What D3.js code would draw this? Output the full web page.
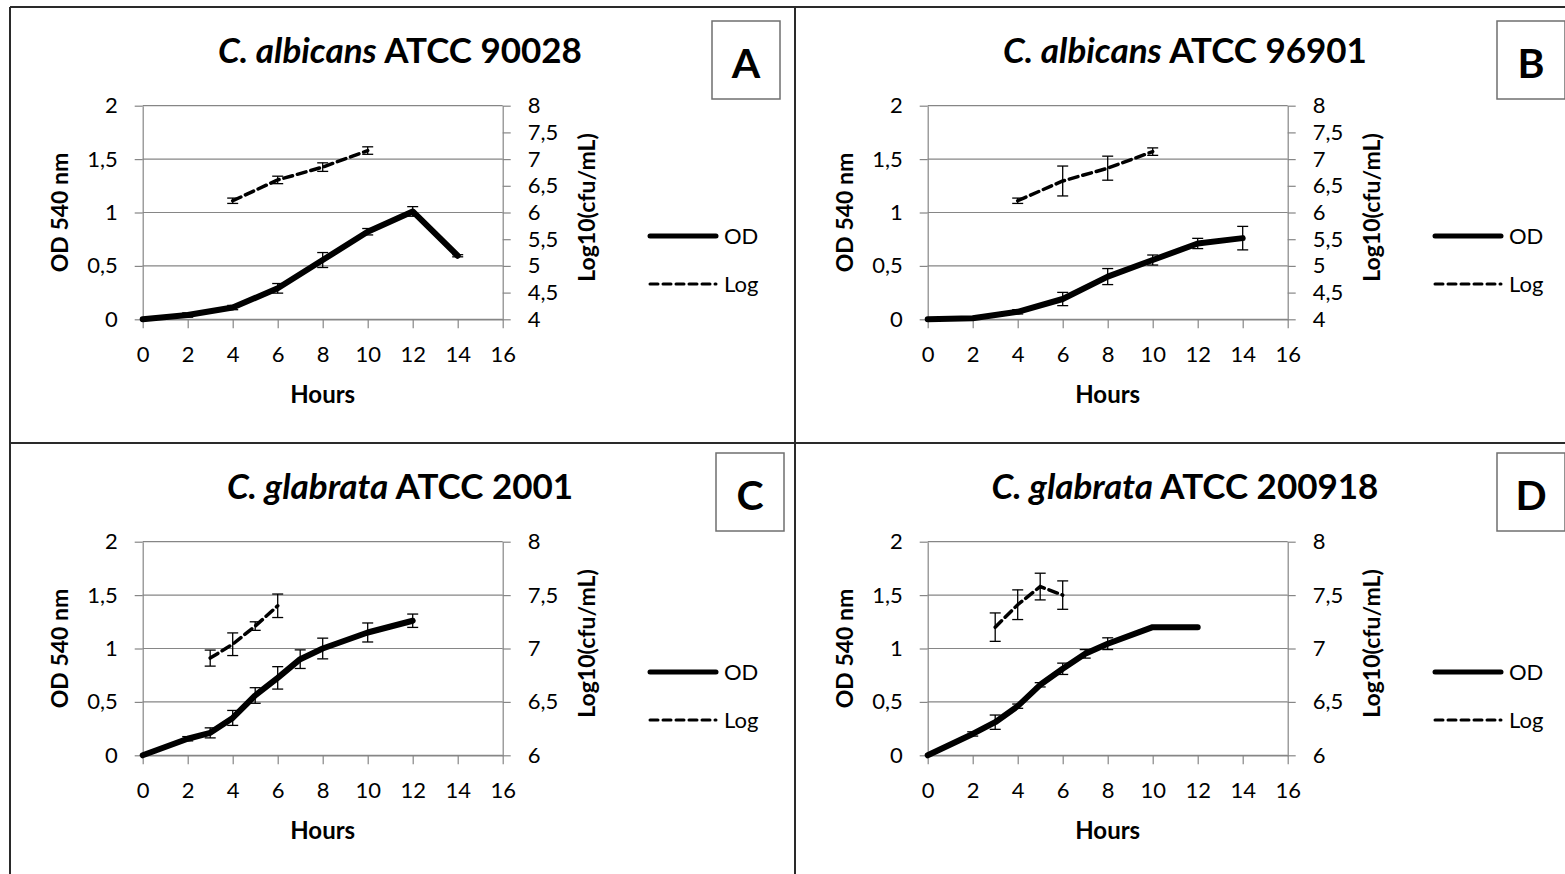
<!DOCTYPE html>
<html>
<head>
<meta charset="utf-8">
<script src="https://cdn.jsdelivr.net/npm/d3@7"></script>
<style>
  body { margin: 0; background: #fff; }
  text { font-family: Lato, "Open Sans", sans-serif; fill: #000; }
</style>
</head>
<body>
<script>
// ---- data ----
var xTicks = [0, 2, 4, 6, 8, 10, 12, 14, 16];
var odTicks = [0, 0.5, 1, 1.5, 2];
var logTicksAB = [4, 4.5, 5, 5.5, 6, 6.5, 7, 7.5, 8];
var logTicksCD = [6, 6.5, 7, 7.5, 8];
var legendLabels = ['OD', 'Log'];

var hoursA = [0, 2, 4, 6, 8, 10, 12, 14];
var odA = [0, 0.04, 0.11, 0.29, 0.555, 0.82, 1.01, 0.595];
var odErrA = [0, 0.02, 0.02, 0.045, 0.07, 0.03, 0.045, 0.01];
var logHoursA = [4, 6, 8, 10];
var logA = [6.22, 6.61, 6.85, 7.16];
var logErrA = [0.05, 0.07, 0.08, 0.07];

var hoursB = [0, 2, 4, 6, 8, 10, 12, 14];
var odB = [0, 0.01, 0.07, 0.19, 0.40, 0.555, 0.71, 0.76];
var odErrB = [0, 0, 0.02, 0.062, 0.075, 0.047, 0.048, 0.11];
var logHoursB = [4, 6, 8, 10];
var logB = [6.22, 6.59, 6.83, 7.14];
var logErrB = [0.05, 0.28, 0.225, 0.07];

var hoursC = [0, 2, 3, 4, 5, 6, 7, 8, 10, 12];
var odC = [0, 0.155, 0.21, 0.35, 0.56, 0.725, 0.90, 1.0, 1.15, 1.26];
var odErrC = [0, 0.02, 0.047, 0.07, 0.073, 0.105, 0.087, 0.097, 0.089, 0.0625];
var logHoursC = [3, 4, 5, 6];
var logC = [6.91, 7.04, 7.21, 7.40];
var logErrC = [0.075, 0.106, 0.04, 0.11];

var hoursD = [0, 2, 3, 4, 5, 6, 7, 8, 10, 12];
var odD = [0, 0.2, 0.31, 0.46, 0.66, 0.81, 0.95, 1.045, 1.2, 1.2];
var odErrD = [0, 0.02, 0.067, 0.02, 0.02, 0.053, 0.04, 0.055, 0, 0];
var logHoursD = [3, 4, 5, 6];
var logD = [7.2, 7.41, 7.58, 7.5];
var logErrD = [0.133, 0.139, 0.125, 0.133];

var species = ['C. albicans', 'C. albicans', 'C. glabrata', 'C. glabrata'];
var strains = ['ATCC 90028', 'ATCC 96901', 'ATCC 2001', 'ATCC 200918'];
var letters = ['A', 'B', 'C', 'D'];

// ---- layout ----
var svgWidth = 1565;
var svgHeight = 874;
var grid = '#868686';

var svg = d3.select('body').append('svg')
  .attr('width', svgWidth)
  .attr('height', svgHeight);

// panel frame lines
var frame = svg.append('g').attr('stroke', '#2a2a2a').attr('stroke-width', 2);
frame.append('line').attr('x1', 10).attr('x2', svgWidth).attr('y1', 7).attr('y2', 7);
frame.append('line').attr('x1', 10).attr('x2', svgWidth).attr('y1', 443).attr('y2', 443);
frame.append('line').attr('x1', 10).attr('x2', 10).attr('y1', 7).attr('y2', svgHeight);
frame.append('line').attr('x1', 795).attr('x2', 795).attr('y1', 7).attr('y2', svgHeight);

var comma = function(v){ return String(v).replace('.', ','); };

var zip = function(xs, ys, es){
  return xs.map(function(x, i){ return {x: x, y: ys[i], e: es[i]}; });
};

var panels = [
  {dx: 0,   dy: 0,   od: zip(hoursA, odA, odErrA), log: zip(logHoursA, logA, logErrA), logTicks: logTicksAB, boxDx: 0},
  {dx: 785, dy: 0,   od: zip(hoursB, odB, odErrB), log: zip(logHoursB, logB, logErrB), logTicks: logTicksAB, boxDx: 0},
  {dx: 0,   dy: 436, od: zip(hoursC, odC, odErrC), log: zip(logHoursC, logC, logErrC), logTicks: logTicksCD, boxDx: 4},
  {dx: 785, dy: 436, od: zip(hoursD, odD, odErrD), log: zip(logHoursD, logD, logErrD), logTicks: logTicksCD, boxDx: 0}
];

// plot box (panel A coordinates)
var pLeft = 142.7, pRight = 502.7, pTop = 105.7, pBottom = 319.3;

var drawPanel = function(p, k){
  var g = svg.append('g').attr('transform', 'translate(' + p.dx + ',' + p.dy + ')');

  var x = d3.scaleLinear().domain([0, 16]).range([pLeft, pRight]);
  var y = d3.scaleLinear().domain([0, 2]).range([pBottom, pTop]);
  var y2 = d3.scaleLinear().domain([p.logTicks[0], p.logTicks[p.logTicks.length - 1]]).range([pBottom, pTop]);

  // gridlines
  g.selectAll('.grid').data(odTicks).enter().append('line')
    .attr('x1', pLeft).attr('x2', pRight)
    .attr('y1', function(d){ return y(d); }).attr('y2', function(d){ return y(d); })
    .attr('stroke', grid).attr('stroke-width', 1.2);

  var styleAxis = function(sel){
    sel.selectAll('path, line').attr('stroke', grid).attr('stroke-width', 1.2);
    sel.selectAll('text').style('font-size', '22px').attr('fill', '#000');
  };

  g.append('g').attr('transform', 'translate(' + pLeft + ',0)')
    .call(d3.axisLeft(y).tickValues(odTicks).tickFormat(comma).tickSizeInner(8).tickSizeOuter(0).tickPadding(17))
    .call(styleAxis);
  g.append('g').attr('transform', 'translate(' + pRight + ',0)')
    .call(d3.axisRight(y2).tickValues(p.logTicks).tickFormat(comma).tickSizeInner(8).tickSizeOuter(0).tickPadding(17))
    .call(styleAxis);
  g.append('g').attr('transform', 'translate(0,' + pBottom + ')')
    .call(d3.axisBottom(x).tickValues(xTicks).tickSizeInner(9).tickSizeOuter(0).tickPadding(18))
    .call(styleAxis);

  // axis titles
  g.append('text').text('Hours')
    .attr('x', (pLeft + pRight) / 2).attr('y', 403)
    .attr('text-anchor', 'middle').style('font-size', '24px').style('font-weight', 'bold');
  g.append('text').text('OD 540 nm')
    .attr('transform', 'translate(68,' + ((pTop + pBottom) / 2) + ') rotate(-90)')
    .attr('text-anchor', 'middle').style('font-size', '23px').style('font-weight', 'bold');
  g.append('text').text('Log10(cfu/mL)')
    .attr('transform', 'translate(595,' + ((pTop + pBottom) / 2 - 5) + ') rotate(-90)')
    .attr('text-anchor', 'middle').style('font-size', '23px').style('font-weight', 'bold');

  // title
  var t = g.append('text').attr('x', 400).attr('y', 63)
    .attr('text-anchor', 'middle').style('font-size', '35px').style('font-weight', 'bold');
  t.append('tspan').text(species[k]).style('font-style', 'italic');
  t.append('tspan').text(' ' + strains[k]);

  // letter box
  var bx = 712 + p.boxDx, by = 21 - (p.dy ? 4 : 0);
  g.append('rect').attr('x', bx).attr('y', by).attr('width', 68).attr('height', 78)
    .attr('fill', 'none').attr('stroke', '#6f6f6f').attr('stroke-width', 1.5);
  g.append('text').text(letters[k]).attr('x', bx + 34).attr('y', by + 57)
    .attr('text-anchor', 'middle').style('font-size', '41px').style('font-weight', 'bold');

  // lines
  var odLine = d3.line().x(function(d){ return x(d.x); }).y(function(d){ return y(d.y); });
  var logLine = d3.line().x(function(d){ return x(d.x); }).y(function(d){ return y2(d.y); });

  g.append('path').datum(p.od).attr('d', odLine)
    .attr('fill', 'none').attr('stroke', '#000').attr('stroke-width', 6)
    .attr('stroke-linejoin', 'round').attr('stroke-linecap', 'round');
  g.append('path').datum(p.log).attr('d', logLine)
    .attr('fill', 'none').attr('stroke', '#000').attr('stroke-width', 3.5)
    .attr('stroke-dasharray', '9,5').attr('stroke-linecap', 'round');

  // error bars
  var drawErr = function(data, sy){
    var eb = g.append('g').attr('stroke', '#000').attr('stroke-width', 1.3);
    data.filter(function(d){ return d.e > 0; }).forEach(function(d){
      var cx = x(d.x);
      eb.append('line').attr('x1', cx).attr('x2', cx).attr('y1', sy(d.y - d.e)).attr('y2', sy(d.y + d.e));
      eb.append('line').attr('x1', cx - 5.5).attr('x2', cx + 5.5).attr('y1', sy(d.y - d.e)).attr('y2', sy(d.y - d.e));
      eb.append('line').attr('x1', cx - 5.5).attr('x2', cx + 5.5).attr('y1', sy(d.y + d.e)).attr('y2', sy(d.y + d.e));
    });
  };
  drawErr(p.od, y);
  drawErr(p.log, y2);

  // legend
  var lg = g.append('g');
  lg.append('line').attr('x1', 650).attr('x2', 716).attr('y1', 236).attr('y2', 236)
    .attr('stroke', '#000').attr('stroke-width', 5).attr('stroke-linecap', 'round');
  lg.append('line').attr('x1', 650).attr('x2', 716).attr('y1', 284).attr('y2', 284)
    .attr('stroke', '#000').attr('stroke-width', 3).attr('stroke-dasharray', '8,5').attr('stroke-linecap', 'round');
  lg.selectAll('.lab').data(legendLabels).enter().append('text')
    .text(function(d){ return d; })
    .attr('x', 724).attr('y', function(d, i){ return 244 + i * 48; })
    .style('font-size', '22px');
};

panels.forEach(drawPanel);
</script>
</body>
</html>
